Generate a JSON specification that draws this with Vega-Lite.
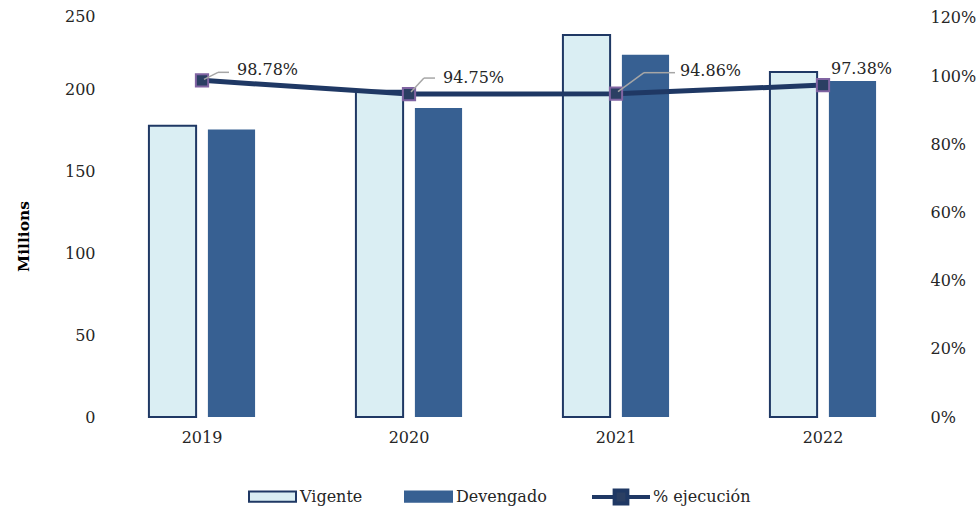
{
  "$schema": "https://vega.github.io/schema/vega-lite/v6.json",
  "width": 797,
  "height": 409,
  "autosize": "none",
  "padding": {"left": 113, "top": 8, "right": 70, "bottom": 95},
  "config": {
    "font": "DejaVu Serif",
    "view": {"stroke": null},
    "axis": {"labelFont": "DejaVu Serif", "labelFontSize": 16, "labelColor": "#262626", "grid": false, "ticks": false, "domain": false},
    "legend": {"labelFont": "DejaVu Serif", "labelFontSize": 16, "labelColor": "#262626", "labelOffset": 3, "padding": 0, "title": null, "direction": "horizontal"}
  },
  "datasets": {
    "montos": [
      {"anio": "2019", "serie": "Vigente", "monto": 178.0},
      {"anio": "2019", "serie": "Devengado", "monto": 175.8},
      {"anio": "2020", "serie": "Vigente", "monto": 199.4},
      {"anio": "2020", "serie": "Devengado", "monto": 188.9},
      {"anio": "2021", "serie": "Vigente", "monto": 233.5},
      {"anio": "2021", "serie": "Devengado", "monto": 221.5},
      {"anio": "2022", "serie": "Vigente", "monto": 210.9},
      {"anio": "2022", "serie": "Devengado", "monto": 205.4}
    ],
    "ejec": [
      {"anio": "2019", "serie": "% ejecución", "pct": 0.9878, "etiqueta": "98.78%"},
      {"anio": "2020", "serie": "% ejecución", "pct": 0.9475, "etiqueta": "94.75%"},
      {"anio": "2021", "serie": "% ejecución", "pct": 0.9486, "etiqueta": "94.86%"},
      {"anio": "2022", "serie": "% ejecución", "pct": 0.9738, "etiqueta": "97.38%"}
    ]
  },
  "encoding": {
    "x": {
      "field": "anio", "type": "nominal",
      "scale": {"range": [-14.5, 813.5], "paddingInner": 0, "paddingOuter": 0},
      "axis": {"title": null, "labelAngle": 0, "labelPadding": 12}
    }
  },
  "layer": [
    {
      "data": {"name": "montos"},
      "layer": [
        {
          "mark": {"type": "bar"},
          "encoding": {
            "xOffset": {"field": "serie", "type": "nominal", "sort": ["Vigente", "Devengado"], "scale": {"paddingInner": 0.2, "paddingOuter": 0.855}},
            "y": {
              "field": "monto", "type": "quantitative",
              "scale": {"domain": [0, 250], "nice": false, "zero": true},
              "axis": {"title": "Millions", "values": [0, 50, 100, 150, 200, 250], "labelPadding": 18, "labelOffset": {"condition": {"test": "datum.value === 250", "value": 8}, "value": 0}, "titleFontWeight": "bold", "titleFontSize": 15.5, "titleFont": "DejaVu Serif", "titleColor": "#000000", "titlePadding": 33, "titleY": 228}
            },
            "fill": {
              "field": "serie", "type": "nominal",
              "scale": {"domain": ["Vigente", "Devengado"], "range": ["#DAEEF3", "#376092"]},
              "legend": {"orient": "none", "legendX": 135, "legendY": 464, "columns": 2, "columnPadding": 38, "symbolSize": 2209, "symbolType": "M-1,-0.22H1V0.22H-1Z", "symbolStrokeWidth": 2, "symbolOpacity": 1}
            },
            "stroke": {
              "field": "serie", "type": "nominal",
              "scale": {"domain": ["Vigente", "Devengado"], "range": ["#1F3864", "#376092"]}
            },
            "strokeWidth": {"condition": {"test": "datum.serie === 'Vigente'", "value": 2}, "value": 0}
          }
        },
        {
          "mark": {"type": "rule", "color": "#A6A6A6", "strokeWidth": 2},
          "encoding": {"y": {"datum": 0}}
        }
      ]
    },
    {
      "data": {"name": "ejec"},
      "encoding": {
        "y": {
          "field": "pct", "type": "quantitative",
          "scale": {"domain": [0, 1.2], "nice": false},
          "axis": {"orient": "right", "format": ".0%", "values": [0, 0.2, 0.4, 0.6, 0.8, 1.0, 1.2], "title": null, "labelPadding": 20, "labelOffset": {"condition": {"test": "datum.value >= 1.19", "value": 9}, "value": 0}}
        }
      },
      "layer": [
        {
          "mark": {"type": "line", "strokeWidth": 5},
          "encoding": {
            "color": {
              "field": "serie", "type": "nominal",
              "scale": {"domain": ["% ejecución"], "range": ["#1F3864"]},
              "legend": {"orient": "none", "legendX": 477, "legendY": 458, "symbolSize": 3364, "symbolType": "M-1,0H-0.22M0.22,0H1M-0.22,-0.22H0.22V0.22H-0.22Z", "symbolStrokeWidth": 4, "symbolFillColor": "#2B3F63", "symbolOpacity": 1, "labelOffset": 1}
            }
          }
        },
        {
          "mark": {"type": "point", "shape": "square", "filled": true, "size": 150, "fill": "#2B3F63", "stroke": "#8064A2", "strokeWidth": 2, "opacity": 1}
        },
        {
          "transform": [{"filter": "datum.anio === '2019'"}],
          "layer": [
            {"mark": {"type": "rule", "color": "#A6A6A6", "strokeWidth": 1.5, "xOffset": 2, "yOffset": -1, "x2Offset": 16, "y2Offset": -8}, "encoding": {"x2": {"field": "anio"}, "y2": {"field": "pct"}}},
            {"mark": {"type": "rule", "color": "#A6A6A6", "strokeWidth": 1.5, "xOffset": 16, "yOffset": -8, "x2Offset": 27, "y2Offset": -8}, "encoding": {"x2": {"field": "anio"}, "y2": {"field": "pct"}}},
            {"mark": {"type": "text", "align": "left", "baseline": "middle", "dx": 35, "dy": -10, "fontSize": 16, "color": "#262626"}, "encoding": {"text": {"field": "etiqueta"}}}
          ]
        },
        {
          "transform": [{"filter": "datum.anio === '2020'"}],
          "layer": [
            {"mark": {"type": "rule", "color": "#A6A6A6", "strokeWidth": 1.5, "xOffset": 2, "yOffset": -2, "x2Offset": 15, "y2Offset": -16}, "encoding": {"x2": {"field": "anio"}, "y2": {"field": "pct"}}},
            {"mark": {"type": "rule", "color": "#A6A6A6", "strokeWidth": 1.5, "xOffset": 15, "yOffset": -16, "x2Offset": 26, "y2Offset": -16}, "encoding": {"x2": {"field": "anio"}, "y2": {"field": "pct"}}},
            {"mark": {"type": "text", "align": "left", "baseline": "middle", "dx": 34, "dy": -16, "fontSize": 16, "color": "#262626"}, "encoding": {"text": {"field": "etiqueta"}}}
          ]
        },
        {
          "transform": [{"filter": "datum.anio === '2021'"}],
          "layer": [
            {"mark": {"type": "rule", "color": "#A6A6A6", "strokeWidth": 1.5, "xOffset": 2, "yOffset": -2, "x2Offset": 28, "y2Offset": -21}, "encoding": {"x2": {"field": "anio"}, "y2": {"field": "pct"}}},
            {"mark": {"type": "rule", "color": "#A6A6A6", "strokeWidth": 1.5, "xOffset": 28, "yOffset": -21, "x2Offset": 59, "y2Offset": -21}, "encoding": {"x2": {"field": "anio"}, "y2": {"field": "pct"}}},
            {"mark": {"type": "text", "align": "left", "baseline": "middle", "dx": 64, "dy": -23, "fontSize": 16, "color": "#262626"}, "encoding": {"text": {"field": "etiqueta"}}}
          ]
        },
        {
          "transform": [{"filter": "datum.anio === '2022'"}],
          "mark": {"type": "text", "align": "left", "baseline": "middle", "dx": 8, "dy": -16, "fontSize": 16, "color": "#262626"},
          "encoding": {"text": {"field": "etiqueta"}}
        }
      ]
    }
  ],
  "resolve": {"scale": {"y": "independent"}}
}
